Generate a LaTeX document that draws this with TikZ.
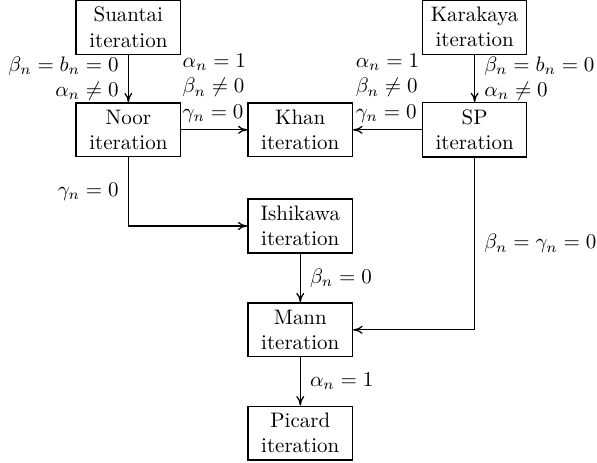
\documentclass[tikz,border=0pt]{standalone}
\usepackage{amsmath}
\usetikzlibrary{arrows.meta}

\tikzset{iterbox/.style={draw, semithick, align=center, minimum width=1.75cm, minimum height=0.87cm},
	flow/.style={semithick, -{To[length=4.5pt, width=3.8pt]}}}

\begin{document}
\begin{tikzpicture}
			%%%%% START %%%%%
			\useasboundingbox (0, 0) rectangle (10, 7.755);
			
			\node[iterbox] (suantai) at (2.15, 7.30) {Suantai\\iteration};
			\node[iterbox] (karakaya) at (7.95, 7.30) {Karakaya\\iteration};
			
			\node[iterbox] (noor) at (2.15, 5.58) {Noor\\iteration};
			\node[iterbox] (khan) at (5.03, 5.58) {Khan\\iteration};
			\node[iterbox] (sp) at (7.95, 5.58) {SP\\iteration};
			
			\node[iterbox] (ishikawa) at (5.03, 3.97) {Ishikawa\\iteration};
			\node[iterbox] (mann) at (5.03, 2.23) {Mann\\iteration};
			\node[iterbox] (picard) at (5.03, 0.50) {Picard\\iteration};
			
			\draw[flow] (suantai) -- node[left, align=right, xshift=-1pt] {$\beta_n=b_n=0$\\$\alpha_n\neq0$} (noor);
			\draw[flow] (karakaya) -- node[right, align=left, xshift=1pt] {$\beta_n=b_n=0$\\$\alpha_n\neq0$} (sp);
			
			\draw[flow] (noor) -- node[above, align=left] {$\alpha_n=1$\\$\beta_n\neq0$\\$\gamma_n=0$} (khan);
			\draw[flow] (sp) -- node[above, align=left] {$\alpha_n=1$\\$\beta_n\neq0$\\$\gamma_n=0$} (khan);
			
			\draw[flow] (noor) |- node[pos=0.25, left, xshift=-1pt] {$\gamma_n=0$} (ishikawa);
			\draw[flow] (sp) |- node[pos=0.25, right, xshift=1pt] {$\beta_n=\gamma_n=0$} (mann);
			
			\draw[flow] (ishikawa) -- node[right, xshift=1pt] {$\beta_n=0$} (mann);
			\draw[flow] (mann) -- node[right, xshift=1pt] {$\alpha_n=1$} (picard);
			
			%%%%% END %%%%%
		\end{tikzpicture}
\end{document}
